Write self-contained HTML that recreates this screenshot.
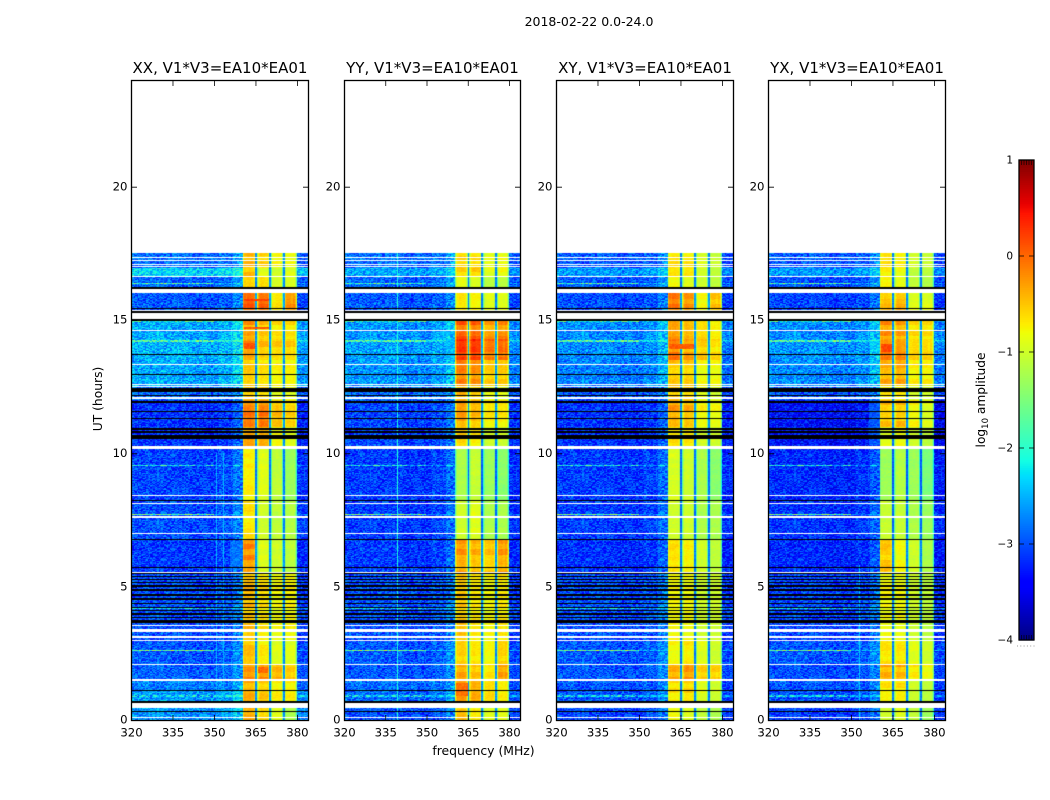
<!DOCTYPE html>
<html lang="en">
<head>
<meta charset="utf-8">
<title>2018-02-22 spectrograms</title>
<style>
html,body{margin:0;padding:0;background:#fff;}
#figure{position:relative;width:1050px;height:800px;overflow:hidden;background:#fff;font-family:"DejaVu Sans","Liberation Sans",sans-serif;}
#figure canvas{position:absolute;display:block;}
#figure svg{position:absolute;left:0;top:0;}
text{font-family:"DejaVu Sans","Liberation Sans",sans-serif;fill:#000;}
</style>
</head>
<body>
<div id="figure">
<canvas id="c0" width="177" height="640" style="left:131px;top:80px"></canvas>
<canvas id="c1" width="176" height="640" style="left:344px;top:80px"></canvas>
<canvas id="c2" width="177" height="640" style="left:556px;top:80px"></canvas>
<canvas id="c3" width="177" height="640" style="left:768px;top:80px"></canvas>
<svg id="overlay" width="1050" height="800" viewBox="0 0 1050 800"></svg>
</div>
<script>
// ---------- labels and ticks ----------
const panelTitles = ["XX, V1*V3=EA10*EA01", "YY, V1*V3=EA10*EA01", "XY, V1*V3=EA10*EA01", "YX, V1*V3=EA10*EA01"];
const panelNames = ["xx", "yy", "xy", "yx"];
const freqTicks = [320, 335, 350, 365, 380];
const hourTicks = [0, 5, 10, 15, 20];
const colorbarTicks = [1, 0, -1, -2, -3, -4];

// ---------- time segments (upper edge, hours) ----------
const segmentEndHours = [0.45, 1.1, 1.5, 2.1, 3, 5.5, 6.8, 8.2, 10.2, 11, 12, 12.5, 13.5, 14.3, 15.05, 16, 16.6, 16.95, 17.5];

// ---------- log10 amplitude per segment: [background, 360-365, 365-370, 370-375, 375-380 MHz] ----------
const levelsXX = [
[-2.7,-.4,-.6,-.9,-1.2],[-2.65,-.45,-.55,-.75,-.75],[-2.8,-.45,-.55,-.75,-.75],[-2.95,-.3,-.25,-.45,-.55],[-3.0,-.5,-.7,-.9,-.9],
[-3.05,-.5,-.65,-.8,-.75],[-3.15,-.25,-.9,-1,-1.1],[-3.05,-.7,-1,-1.1,-1.15],[-3.1,-.75,-.9,-1.1,-1.3],[-3.2,-.4,-.4,-.8,-.9],
[-3.2,-.2,-.15,-.5,-.6],[-2.9,-.6,-.6,-.9,-.9],[-2.6,-.55,-.65,-.75,-.75],[-2.55,-.25,-.45,-.55,-.55],[-2.6,-.35,-.5,-.65,-.65],
[-3.0,-.05,-.05,-.7,-.3],[-2.95,-.5,-.55,-.9,-.9],[-2.35,-.5,-.9,-1,-.9],[-2.9,-.5,-.6,-.8,-.85]];
const levelsYY = [
[-3.05,-.55,-.75,-.95,-.9],[-2.9,-.35,-.4,-.65,-.75],[-2.9,-.35,-.4,-.65,-.75],[-3,-.4,-.5,-.7,-.35],[-3,-.6,-.7,-.8,-.6],
[-3.05,-.55,-.7,-.8,-.7],[-3.15,-.3,-.4,-.5,-.3],[-3.15,-1,-.9,-1.2,-1.2],[-3.15,-1.2,-1.05,-1.3,-1.4],[-3.1,-.6,-.7,-1,-1],
[-3.1,-.35,-.45,-.7,-.7],[-2.9,-.5,-.6,-.9,-.9],[-2.7,-.2,-.25,-.55,-.55],[-2.65,.15,.2,-.15,-.1],[-2.7,-.05,-.05,-.35,-.25],
[-3,-.7,-.75,-.9,-.9],[-2.95,-.8,-.9,-1.1,-1.1],[-2.6,-.6,-.55,-.9,-.8],[-2.9,-.6,-.6,-.85,-.8]];
const levelsXY = [
[-3.1,-.8,-.9,-1.1,-1.2],[-3,-.7,-.6,-.9,-1],[-3,-.7,-.6,-.9,-1],[-3,-.45,-.3,-.6,-.6],[-3,-.8,-.7,-.9,-1],
[-3.05,-.8,-.8,-1,-1],[-3.2,-.7,-.75,-1,-1.1],[-3.15,-1,-1,-1.2,-1.2],[-3.15,-.95,-1,-1.2,-1.4],[-3.2,-.7,-.7,-1,-1],
[-3.2,-.35,-.4,-.75,-.8],[-3,-.6,-.6,-.9,-1],[-2.8,-.55,-.55,-.8,-.8],[-2.75,-.2,-.35,-.55,-.65],[-2.75,-.35,-.45,-.65,-.75],
[-3.05,-.15,-.25,-.8,-.5],[-3,-.8,-.9,-1,-1.1],[-2.65,-.7,-.7,-1,-1.1],[-3,-.7,-.7,-.95,-1.05]];
const levelsYX = [
[-3.15,-1,-.9,-1.1,-1.3],[-3.05,-.7,-.65,-1,-1.1],[-3,-.7,-.65,-1,-1.1],[-3.05,-.4,-.4,-.7,-.8],[-3,-.7,-.7,-.9,-1],
[-3.1,-.8,-.8,-1,-1.1],[-3.25,-.55,-.8,-1,-1.2],[-3.2,-1.05,-1.05,-1.2,-1.3],[-3.25,-1.3,-1.15,-1.3,-1.5],[-3.4,-.9,-.8,-1,-1.1],
[-3.4,-.5,-.45,-.75,-.9],[-3,-.7,-.7,-1,-1],[-2.75,-.45,-.4,-.75,-.75],[-2.7,-.15,-.15,-.55,-.55],[-2.75,-.3,-.35,-.65,-.65],
[-3.1,-.5,-.4,-.9,-.9],[-3.05,-.8,-.9,-1.1,-1.2],[-2.65,-.7,-.8,-1.1,-1.1],[-3,-.7,-.75,-1,-1.05]];
const panelLevels = [levelsXX, levelsYY, levelsXY, levelsYX];

// ---------- frequency zones ----------
const zoneEndMHz = [360.4, 365, 365.6, 370, 370.6, 375, 375.6, 380, 384];
const zoneSource = [0, 1, -1, 2, -1, 3, -1, 4, 0];
const notchLevel = -2.7;
const shoulderEndMHz = [340, 352, 357, 360.4];
const shoulderOffset = [0.05, 0, 0.08, 0.3];
const upperEdgeOffset = -0.05;
const edgeDistanceMHz = [0.25, 0.55];
const edgeDrop = [0.7, 0.2];

// ---------- flagged rows, hours [from, to] ----------
const whiteRows = [[17.338,17.375],[17.21,17.25],[17.075,17.11],[16.975,17.025],[16.6,16.65],[16.025,16.16],[15.34,15.375],[15.04,15.25],
[14.59,14.625],[13.31,13.35],[12.56,12.6],[12.49,12.54],[12.04,12.125],[10.25,10.29],[10.16,10.225],[8.4,8.44],[8.1,8.14],[7.59,7.66],
[6.96,7.01],[5.51,5.55],[3.52,3.57],[3.29,3.41],[3.07,3.14],[2.97,2.99],[2.91,2.94],[2.06,2.1],[1.46,1.525],[0.45,0.65],[0.06,0.1]];
const blackRows = [[16.175,16.25],[16,16.025],[15.4,15.45],[15.275,15.325],[14.975,15.025],[13.69,13.71],[12.94,12.975],[12.3,12.45],
[12.15,12.2],[11.9,11.95],[11.54,11.575],[11.275,11.31],[10.875,10.94],[10.775,10.825],[10.54,10.7],[8.2,8.24],[6.75,6.8],[5.7,5.74],
[5.46,5.5],[5.35,5.4],[5.26,5.3],[5.15,5.19],[4.98,5.05],[4.85,4.9],[4.65,4.71],[4.5,4.58],[4.36,4.4],[4.21,4.25],[4.07,4.12],
[3.94,4.02],[3.81,3.86],[3.62,3.76],[1.09,1.125],[0.65,0.7],[0.3,0.34]];

// ---------- narrow interference ----------
const rfiHours = [16.375, 14.94, 14.21, 9.55, 7.71, 4.2, 2.61, 0.9];
const rfiLevels = [-1.8, -1.9, -1.8, -2.2, -1.6, -2.3, -1.6, -2.35];
const verticalRfiMHz = [[351, 353.3], [339.5], [], [353]];
const verticalRfiTopHour = [10, 17.5, 5.8, 5.8];
const verticalRfiLevel = [-2.5, -2.1, -2.5, -2.4];
// [panel, fromHour, toHour, fromMHz, toMHz, level]
const patches = [
[0,5.75,6.7,355.8,360.4,-2.8],[0,14.68,14.75,360.9,370,0.1],[0,13.9,14.15,360.9,365,0.1],[0,15.7,15.8,360.9,370,0.2],
[0,1.75,2,365.9,369.6,0],[1,14.4,14.6,355,360.4,-2.5],[1,13.5,14.3,357,360.4,-2.45],[2,13.9,14.1,360.9,370,0.05],
[3,13.8,14.1,360.9,365,0.15],[3,10.3,12,356.5,360.4,-2.95],[3,13.8,14.2,357,360.4,-2.35],[1,0.9,1.4,360.9,365,-.05]];

// ---------- hand-read texture deviations (log10 amplitude) ----------
const speckle = [.12,-.3,.05,.28,-.14,.36,-.22,.02,-.38,.19,.08,-.11,.31,-.27,.15,-.05,.24,-.34,.09,.4,-.18,-.02,.21,-.29,.33,-.08,.13,-.36,.26,.01,-.16,.17,-.24,.07,.35,-.12,-.32,.22,.04,-.2,.29,-.06,.11,-.26,.38,-.15,.16,-.03,-.37,.25,.1,-.21,.3];

// ---------- axis functions ----------
const axesLeft = [131.5, 344.5, 556.5, 768.5];
const axesWidths = [177, 176, 177, 177];
const axesTop = 80.5, axesBottom = 720.5;
const freqMin = 320, freqMax = 384, hourMin = 0, hourMax = 24;
const scaleFreq = (i, f) => axesLeft[i] + (f - freqMin) / (freqMax - freqMin) * axesWidths[i];
const scaleHour = h => axesBottom - (h - hourMin) / (hourMax - hourMin) * (axesBottom - axesTop);
const cbarMin = -4, cbarMax = 1, cbarTop = 160, cbarBottom = 640, cbarLeft = 1019, cbarRight = 1034;
const scaleCbar = v => cbarBottom - (v - cbarMin) / (cbarMax - cbarMin) * (cbarBottom - cbarTop);

function ramp(x, pts) {
  for (let i = 1; i < pts.length; i++) {
    if (x <= pts[i][0]) {
      return pts[i-1][1] + (pts[i][1] - pts[i-1][1]) * (x - pts[i-1][0]) / (pts[i][0] - pts[i-1][0]);
    }
  }
  return pts[pts.length - 1][1];
}
const jetR = [[0,0],[.35,0],[.66,1],[.89,1],[1,.5]];
const jetG = [[0,0],[.125,0],[.375,1],[.64,1],[.91,0],[1,0]];
const jetB = [[0,.5],[.11,1],[.34,1],[.65,0],[1,0]];
function jet(v) {
  const t = Math.max(0, Math.min(1, (v - cbarMin) / (cbarMax - cbarMin)));
  return [Math.round(255 * ramp(t, jetR)), Math.round(255 * ramp(t, jetG)), Math.round(255 * ramp(t, jetB))];
}
const inRows = (list, h) => list.some(r => h >= r[0] && h < r[1]);
const channelMHz = 0.5, rowHours = 1 / 30;

function drawPanel(p) {
  const canvas = document.getElementById('c' + p);
  const ctx = canvas.getContext('2d');
  const img = ctx.createImageData(canvas.width, canvas.height);
  const levels = panelLevels[p];
  const patchList = patches.filter(q => q[0] === p);
  for (let py = 0; py < canvas.height; py++) {
    const hour = (canvas.height - py - 0.5) / canvas.height * (hourMax - hourMin);
    if (hour >= segmentEndHours[segmentEndHours.length - 1] || inRows(whiteRows, hour)) continue;
    const black = inRows(blackRows, hour);
    let seg = 0;
    while (hour >= segmentEndHours[seg]) seg++;
    const row = Math.floor(hour / rowHours);
    const drift = speckle[(Math.floor(hour * 5) * 11 + p * 5) % speckle.length];
    let rfi = -1;
    for (let k = 0; k < rfiHours.length; k++) if (Math.abs(hour - rfiHours[k]) < 0.022) rfi = k;
    for (let px = 0; px < canvas.width; px++) {
      const o = (py * canvas.width + px) * 4;
      img.data[o + 3] = 255;
      if (black) { img.data[o] = img.data[o+1] = img.data[o+2] = 0; continue; }
      const mhz = freqMin + (px + 0.5) / canvas.width * (freqMax - freqMin);
      const col = Math.floor((mhz - freqMin) / channelMHz);
      const dev = speckle[(3*col*col + 7*row*row + col*row) % speckle.length];
      let z = 0;
      while (mhz >= zoneEndMHz[z]) z++;
      const src = zoneSource[z];
      let v;
      if (src > 0) {
        const lvl = levels[seg][src];
        const activity = Math.max(0.2, Math.min(1.2, (lvl + 1.2) / 0.9));
        const ripple = speckle[(col * 7) % speckle.length];
        v = lvl + dev * 0.2 + drift * 0.4 * activity + ripple * 0.15 * activity;
        const d = Math.min(mhz - zoneEndMHz[z - 1], zoneEndMHz[z] - mhz);
        if (d < edgeDistanceMHz[0]) v -= edgeDrop[0];
        else if (d < edgeDistanceMHz[1]) v -= edgeDrop[1];
      } else if (src < 0) {
        v = notchLevel + (levels[seg][1] + 0.5) * 0.3 + dev * 0.3;
      } else {
        v = levels[seg][0] + dev * 1.1;
        if (mhz >= 380) v += upperEdgeOffset;
        else { let s = 0; while (s < shoulderEndMHz.length - 1 && mhz >= shoulderEndMHz[s]) s++; v += shoulderOffset[s]; }
        if (rfi >= 0 && mhz < 350) v = rfiLevels[rfi] + dev * 1.8;
        else if (rfi >= 0) v += 0.4;
        if (hour < verticalRfiTopHour[p]) {
          for (const f of verticalRfiMHz[p]) if (Math.abs(mhz - f) < 0.18) v = verticalRfiLevel[p] + dev * 0.3;
        }
      }
      for (const q of patchList) {
        if (hour >= q[1] && hour < q[2] && mhz >= q[3] && mhz < q[4]) v = q[5] + dev * (q[5] < -2 ? 0.6 : 0.3);
      }
      const c = jet(v);
      img.data[o] = c[0]; img.data[o+1] = c[1]; img.data[o+2] = c[2];
    }
  }
  ctx.putImageData(img, 0, 0);
}
[0, 1, 2, 3].forEach(drawPanel);

// ---------- SVG layer ----------
const svg = document.getElementById('overlay');
const NS = 'http://www.w3.org/2000/svg';
function mk(tag, geom, parent) {
  const el = document.createElementNS(NS, tag);
  for (const k in geom) el.setAttribute(k, geom[k]);
  (parent || svg).appendChild(el);
  return el;
}
const fmt = v => String(v).replace('-', '\u2212');
const tickFont = 11.7, tickLen = 5.5, lw = 1.3;

panelTitles.forEach((title, i) => {
  const g = mk('g', {});
  
  
  const frame = mk('rect', {x: axesLeft[i], y: axesTop, width: axesWidths[i], height: axesBottom - axesTop, fill: 'none', stroke: '#000', 'stroke-width': lw}, g);
  
  
  const t = mk('text', {x: axesLeft[i] + axesWidths[i] / 2, y: 73, 'text-anchor': 'middle', 'font-size': 15}, g);
  t.textContent = title;
  
  
  freqTicks.forEach(f => {
    const x = scaleFreq(i, f);
    const d = mk('path', {d: `M${x} ${axesBottom}v${-tickLen}M${x} ${axesTop}v${tickLen}`, stroke: '#000', 'stroke-width': 0.8, fill: 'none'}, g);
    
    
    const l = mk('text', {x: x, y: 736.5, 'text-anchor': 'middle', 'font-size': tickFont}, g);
    l.textContent = f;
    
    
  });
  hourTicks.forEach(h => {
    const y = scaleHour(h);
    const d = mk('path', {d: `M${axesLeft[i]} ${y}h${tickLen}M${axesLeft[i] + axesWidths[i]} ${y}h${-tickLen}`, stroke: '#000', 'stroke-width': 0.8, fill: 'none'}, g);
    
    
    const l = mk('text', {x: axesLeft[i] - 4, y: y + 3.2, 'text-anchor': 'end', 'font-size': tickFont}, g);
    l.textContent = h;
    
    
  });
});

const sup = mk('text', {x: 589, y: 26, 'text-anchor': 'middle', 'font-size': 12.5});
sup.textContent = '2018-02-22 0.0-24.0';



const xl = mk('text', {x: 483.5, y: 755, 'text-anchor': 'middle', 'font-size': 12.4});
xl.textContent = 'frequency (MHz)';



const yl = mk('text', {x: 0, y: 0, 'text-anchor': 'middle', 'font-size': 12.3, transform: 'translate(102,399) rotate(-90)'});
yl.textContent = 'UT (hours)';



// colorbar
const cg = mk('g', {});


const cbarSteps = 256;
for (let k = 0; k < cbarSteps; k++) {
  const v0 = cbarMin + (cbarMax - cbarMin) * k / cbarSteps;
  const v1 = cbarMin + (cbarMax - cbarMin) * (k + 1) / cbarSteps;
  const c = jet((v0 + v1) / 2);
  const r = mk('rect', {x: cbarLeft, y: scaleCbar(v1), width: cbarRight - cbarLeft, height: scaleCbar(v0) - scaleCbar(v1) + 0.6, fill: `rgb(${c[0]},${c[1]},${c[2]})`}, cg);
  
  
}
const cf = mk('rect', {x: cbarLeft, y: cbarTop, width: cbarRight - cbarLeft, height: cbarBottom - cbarTop, fill: 'none', stroke: '#000', 'stroke-width': lw}, cg);


colorbarTicks.forEach(v => {
  const y = scaleCbar(v);
  const d = mk('path', {d: `M${cbarLeft} ${y}h5M${cbarRight} ${y}h-5`, stroke: '#000', 'stroke-width': 0.8}, cg);
  
  
  const l = mk('text', {x: cbarLeft - 6, y: y + 3.5, 'text-anchor': 'end', 'font-size': 10.5}, cg);
  l.textContent = fmt(v);
  
  
});
const cbarMinor = [0, 1, 2, 3, 4, 5];
cbarMinor.forEach(n => {
  const x = cbarLeft + 2.5 + n * 2.5;
  const d = mk('path', {d: `M${x} ${cbarTop}v5M${x} ${cbarBottom}v-5`, stroke: '#000', 'stroke-width': 0.6}, cg);
  
  
  const dot = mk('rect', {x: cbarLeft - 2 + n * 3.3, y: 645.5, width: 1, height: 1, fill: '#999'}, cg);
  
  
});
const ctitle = mk('text', {x: 0, y: 0, 'text-anchor': 'middle', 'font-size': 12.2, transform: 'translate(985,400) rotate(-90)'}, cg);


ctitle.appendChild(document.createTextNode('log'));
const sub = mk('tspan', {'font-size': 8.5, dy: 3}, ctitle);
sub.textContent = '10';
const rest = mk('tspan', {dy: -3}, ctitle);
rest.textContent = ' amplitude';
</script>
</body>
</html>
